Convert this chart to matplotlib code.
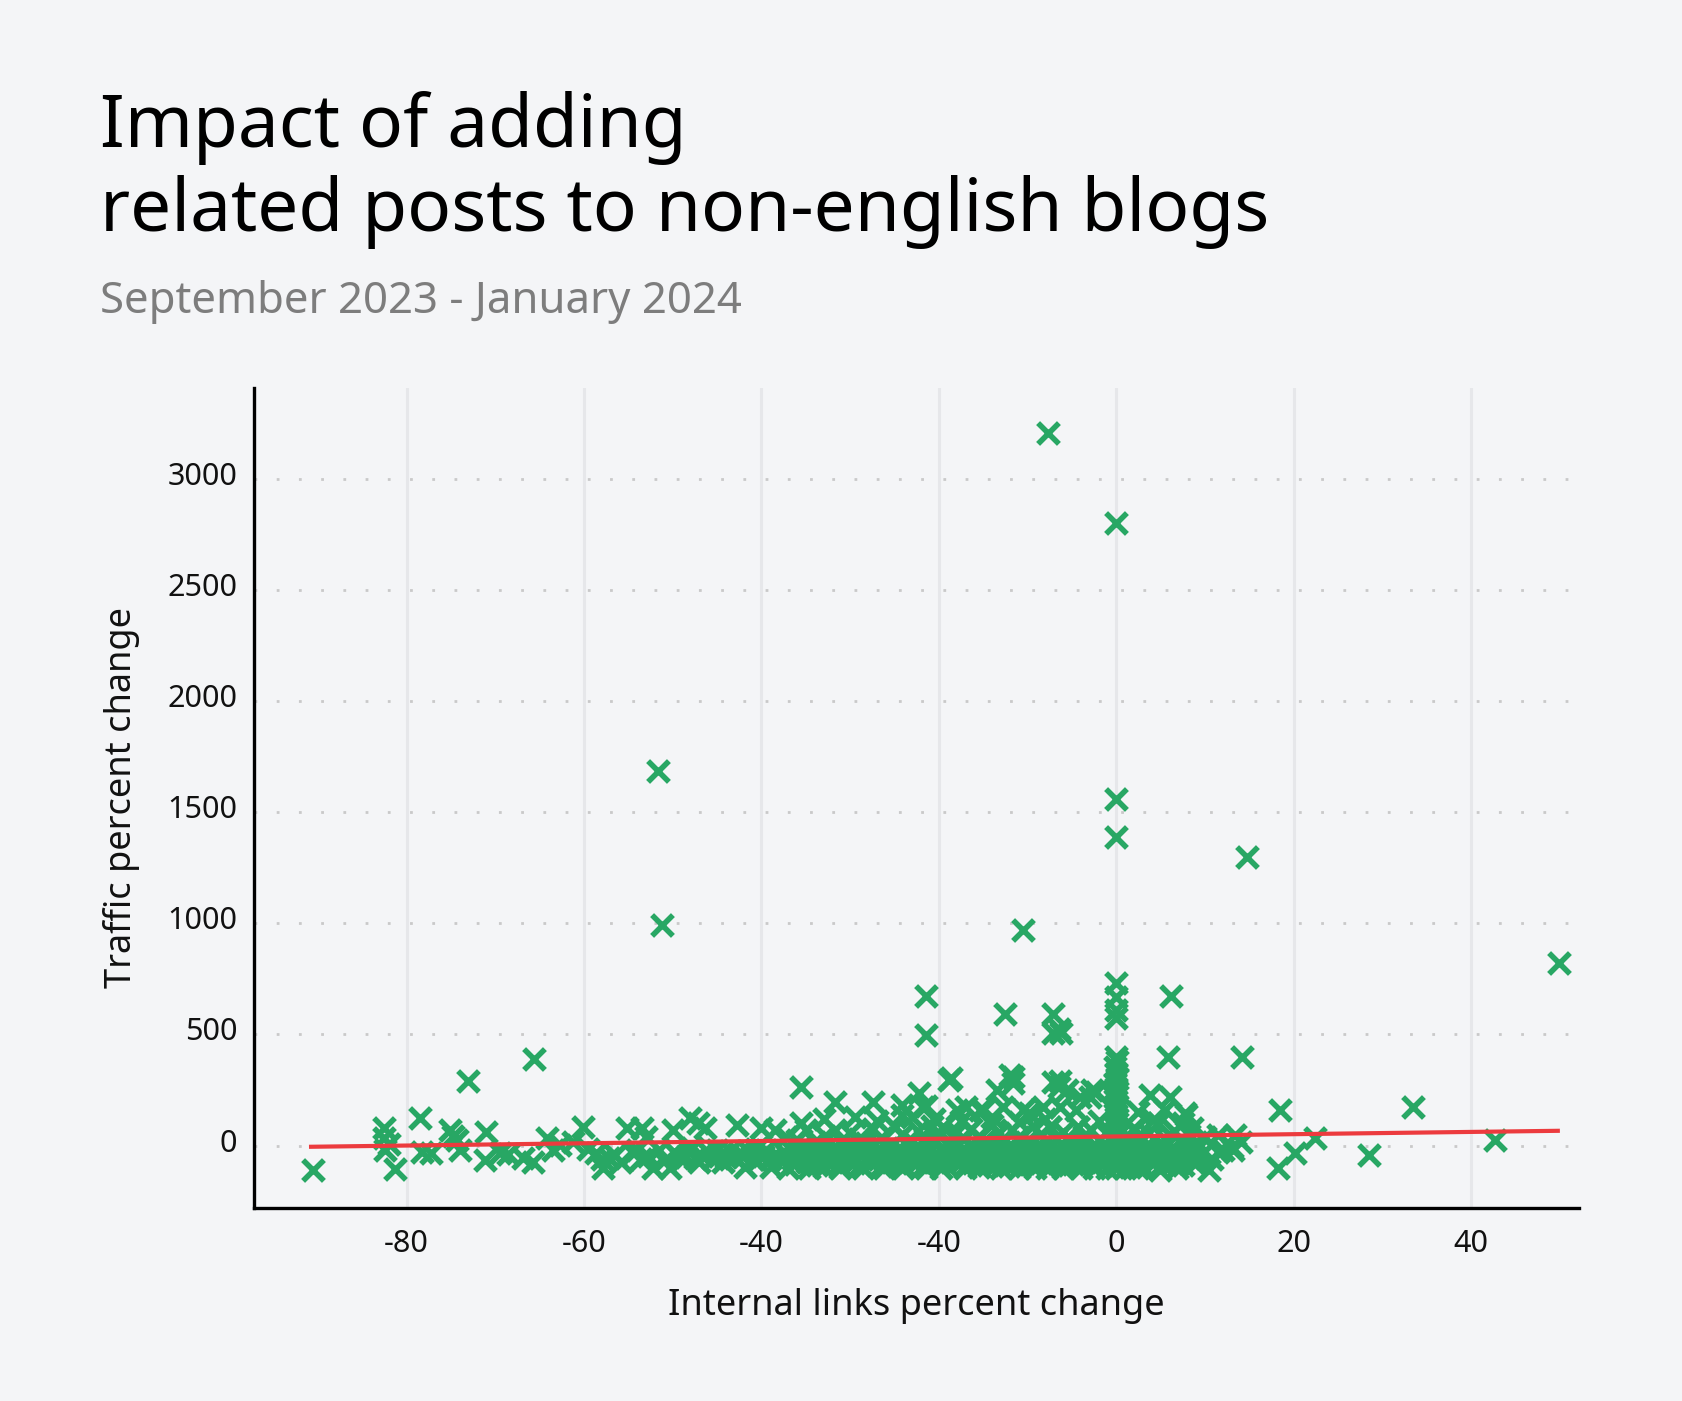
import matplotlib
matplotlib.use("Agg")
import matplotlib.pyplot as plt
from matplotlib.transforms import ScaledTranslation
import numpy as np

# ---------------- data ----------------
# isolated / outlying points
outlier_x = [-7.7, 0.0, -51.7, -51.2, 0.0, 0.0, 14.7, -10.5, 49.9, -21.5, -21.5, -12.5, -7.1, -7.1, -6.2,
             -6.5, 6.2, 0.0, 0.0, 0.0, 0.0, 5.8, 14.2, 33.4, 42.7, 18.4, 20.1, 18.2, 22.4, 28.5, 10.5, 4.9]
outlier_y = [3205, 2799, 1684, 994, 1559, 1390, 1298, 970, 820, 671, 497, 590, 590, 506, 506,
             525, 671, 731, 670, 610, 574, 400, 400, 174, 24, 160, -34, -100, 34, -42, -110, -110]

# sparse points on the left (x < -37)
left_x = [-90.6, -82.6, -82.6, -82.4, -82.0, -81.3, -78.5, -78.3, -77.2, -75.1, -74.3, -74.0, -74.8, -73.1,
          -71.0, -71.2, -69.5, -68.6, -66.9, -65.7, -65.6, -64.2, -63.5, -62.7, -61.2, -60.1, -59.6, -58.6,
          -57.9, -57.2, -55.2, -53.5, -54.5, -53.6, -53.0, -52.2, -51.5, -50.3, -50.0, -49.5, -49.0, -48.1,
          -47.8, -47.2, -46.4, -47.5, -46.0, -45.5, -44.8, -44.0, -43.5, -42.8, -41.9, -42.5, -41.0, -40.6,
          -40.0, -39.5, -38.9, -38.5, -38.0, -37.5, -58.0, -56.5, -55.8, -54.0, -52.8, -51.0, -49.8, -48.5,
          -47.0, -46.8, -45.0, -44.3, -43.0, -42.0, -41.5, -40.5, -39.8, -39.0]
left_y = [-110, 78, 33, -20, 8, -107, 123, -27, -35, 70, 25, -20, 45, 290,
          63, -65, -35, -38, -56, -72, 391, 33, -20, 3, 18, 85, -15, -35,
          -101, -55, 78, 78, -34, -60, 40, -101, -20, -101, 70, -40, -65, 124,
          -10, 100, 78, -56, -30, -62, -45, -50, -25, 93, -95, -35, -60, -15,
          78, -20, -95, 70, -50, -30, -60, -40, -75, -20, -45, -70, -30, -50,
          -75, -40, -20, -75, -55, -45, -25, -70, -45, -60]

# dense band, middle row
band1_x = [-37.0, -36.4, -35.8, -35.2, -34.6, -34.0, -33.4, -32.8, -32.2, -31.6, -31.0, -30.4, -29.8, -29.2,
           -28.6, -28.0, -27.4, -26.8, -26.2, -25.6, -25.0, -24.4, -23.8, -23.2, -22.6, -22.0, -21.4, -20.8,
           -20.2, -19.6, -19.0, -18.4, -17.8, -17.2, -16.6, -16.0, -15.4, -14.8, -14.2, -13.6, -13.0, -12.4,
           -11.8, -11.2, -10.6, -10.0, -9.4, -8.8, -8.2, -7.6, -7.0, -6.4, -5.8, -5.2, -4.6, -4.0, -3.4, -2.8,
           -2.2, -1.6, -1.0, -0.4, 0.4, 1.0, 1.6, 2.2, 2.8, 3.4, 4.0, 4.6, 5.2, 5.8, 6.4, 7.0, 7.6, 8.2, 8.8]
band1_y = [-45, -62, -38, -55, -42, -66, -35, -50, -44, -60, -36, -52, -46, -64,
           -39, -55, -43, -61, -37, -51, -47, -63, -40, -56, -44, -60, -38, -53,
           -45, -65, -41, -54, -46, -62, -39, -52, -44, -60, -37, -55, -48, -63,
           -40, -53, -45, -61, -38, -56, -43, -59, -41, -54, -47, -64, -39, -52, -45, -62,
           -40, -55, -44, -58, -42, -57, -46, -63, -40, -52, -45, -60, -38, -54, -47, -58, -42, -55, -48]

# dense band, upper row
band2_x = [-36.7, -35.5, -34.3, -33.1, -31.9, -30.7, -29.5, -28.3, -27.1, -25.9, -24.7, -23.5, -22.3, -21.1,
           -19.9, -18.7, -17.5, -16.3, -15.1, -13.9, -12.7, -11.5, -10.3, -9.1, -7.9, -6.7, -5.5, -4.3, -3.1,
           -1.9, -0.7, 0.7, 1.9, 3.1, 4.3, 5.5, 6.7, 7.9, 9.1]
band2_y = [-18, -8, -25, -12, -22, -5, -20, -14, -26, -10, -19, -3, -24, -12,
           -17, -6, -23, -11, -20, -4, -25, -13, -18, -7, -22, -10, -19, -2, -24,
           -14, -17, -8, -21, -12, -18, -5, -23, -11, -16]

# dense band, lower row
band3_x = [-36.2, -34.9, -33.7, -32.5, -31.3, -30.1, -28.9, -27.7, -26.5, -25.3, -24.1, -22.9, -21.7, -20.5,
           -19.3, -18.1, -16.9, -15.7, -14.5, -13.3, -12.1, -10.9, -9.7, -8.5, -7.3, -6.1, -4.9, -3.7, -2.5,
           -1.3, 0.3, 1.5, 2.7, 3.9, 5.1, 6.3, 7.5, 8.7]
band3_y = [-82, -75, -88, -78, -85, -72, -86, -79, -90, -74, -84, -77, -89, -73,
           -83, -80, -87, -75, -85, -78, -90, -74, -82, -79, -88, -76, -84, -80, -89,
           -73, -85, -78, -87, -75, -83, -79, -86, -74]

# dense band, extra fill row
band4_x = [-35.9, -34.8, -33.5, -32.3, -31.1, -29.9, -28.7, -27.5, -26.3, -25.1, -23.9, -22.7, -21.5, -20.3,
           -19.1, -17.9, -16.7, -15.5, -14.3, -13.1, -11.9, -10.7, -9.5, -8.3, -7.1, -5.9, -4.7, -3.5, -2.3,
           -1.1, 0.9, 2.1, 3.3, 4.5, 5.7, 6.9, 8.1]
band4_y = [-30, -68, -28, -70, -32, -66, -29, -71, -33, -67, -27, -69, -31, -72,
           -28, -66, -34, -70, -29, -68, -32, -71, -27, -67, -30, -69, -33, -72, -28,
           -66, -31, -70, -29, -68, -32, -71, -30]

# points at the -100 floor
floor_x = [-37.0, -34.6, -33.0, -31.2, -28.5, -26.2, -24.0, -21.5, -19.8, -17.0, -15.5, -13.0, -11.0, -9.2,
           -7.8, -6.0, -4.0, -2.5, -1.0, 1.0, 2.5, 6.8, 9.0]
floor_y = [-100, -100, -98, -100, -100, -99, -100, -100, -100, -100, -98, -100, -100, -99,
           -100, -100, -100, -100, -100, -100, -100, -100, -80]

# points just above the band
above_x = [-37.2, -36.0, -35.0, -34.0, -32.8, -31.7, -31.0, -30.0, -29.0, -28.2, -27.4, -26.5, -25.0, -24.2,
           -23.0, -22.4, -21.6, -20.8, -20.0, -19.5, -18.8, -18.0, -17.2, -16.4, -15.6, -14.9, -14.0, -13.2,
           -12.5, -11.8, -11.0, -10.2, -9.4, -8.6, -7.5, -6.8, -6.0, -5.2, -4.3, -3.6, -2.8, -2.0, -1.2, 1.2,
           2.0, 2.8, 3.6, 4.7, 5.5, 6.5, 7.4, 8.2, 9.0, 10.0, 11.5, 13.4, 12.0, 13.0, 9.5, 10.8, 11.5, 14.0,
           8.5, 7.5, 13.1]
above_y = [40, 25, 70, 15, 45, 70, 20, 55, 30, 10, 75, 35, 85, 50,
           20, 65, 30, 90, 45, 85, 15, 60, 30, 75, 40, 20, 95, 55,
           25, 70, 40, 15, 90, 50, 85, 30, 60, 20, 85, 45, 70, 25, 55, 35,
           70, 20, 55, 100, 30, 65, 25, 50, 15, 40, 48, 48, -20, -5, -40, -60, -30, 15,
           80, 100, -20]

# scattered points 100-320
mid_x = [-35.5, -35.5, -31.7, -27.4, -24.2, -24.2, -22.2, -21.8, -19.5, -25.0, -18.9, -18.0, -15.0, -13.5,
         -11.6, -11.7, -9.8, -7.1, -6.5, -4.1, -2.7, 3.8, 6.0, 7.9, 4.7, -12.0, -12.8, -15.4, -16.9, -10.5,
         -9.6, -8.3, -6.4, -5.6, -6.4, -4.5, -4.3, -7.5, -3.0, -2.3, 4.1, -33.0, -29.5, -27.0, -23.0,
         -20.5, -17.5, -14.0, -11.0, -8.0, -2.0, 2.5, 5.5, 7.7, -21.5, -18.6]
mid_y = [265, 100, 198, 198, 183, 140, 236, 175, 85, 85, 295, 160, 160, 250,
         310, 280, 146, 287, 265, 220, 250, 227, 220, 138, 100, 318, 175, 160, 175, 160,
         138, 175, 290, 250, 175, 160, 85, 85, 220, 240, 115, 120, 130, 110, 130,
         120, 110, 130, 105, 120, 110, 150, 160, 146, 179, 304]

# vertical column at x = 0
col_x = [0.0, 0.1, -0.1, 0.0, 0.1, -0.1, 0.0, 0.1, -0.1, 0.0, 0.1, -0.1, 0.0, 0.1, -0.1, 0.0, 0.1, -0.1,
         0.0, 0.1, -0.1, 0.0, 0.1, -0.1, 0.0, 1.5, 2.2, 3.0, 1.8, 2.6, 1.2, 2.9, 2.0, 1.5]
col_y = [400, 380, 355, 325, 300, 280, 260, 240, 220, 200, 180, 160, 140, 120, 100, 80, 60, 40,
         20, 0, -20, -40, -60, -80, -100, -95, -70, -30, 10, 50, -50, -90, 80, -10]

# trend line end points
trend_x = [-91, 50]
trend_y = [-5, 67]

x_ticks = [-80, -60, -40, -20, 0, 20, 40]
x_tick_labels = ["-80", "-60", "-40", "-40", "0", "20", "40"]
y_ticks = [0, 500, 1000, 1500, 2000, 2500, 3000]

# ---------------- style ----------------
BG = "#f4f5f7"
GREEN = "#28a764"
RED = "#ec3b3e"
FONT = ["Noto Sans", "DejaVu Sans"]
plt.rcParams["font.family"] = FONT

fig = plt.figure(figsize=(16.82, 14.01), dpi=100)
fig.patch.set_facecolor(BG)
ax = fig.add_axes([0.151, 0.1378, 0.788, 0.5852])
ax.set_facecolor(BG)

all_x = np.concatenate([outlier_x, left_x, band1_x, band2_x, band3_x, band4_x, floor_x, above_x, mid_x, col_x])
all_y = np.concatenate([outlier_y, left_y, band1_y, band2_y, band3_y, band4_y, floor_y, above_y, mid_y, col_y])

ax.scatter(all_x, all_y, marker="x", s=15 ** 2, linewidths=4.0, color=GREEN, zorder=3)
ax.plot(trend_x, trend_y, color=RED, lw=3.0, zorder=4, solid_capstyle="butt")

ax.set_xlim(-97.2, 52.2)
ax.set_ylim(-280, 3407)

ax.set_xticks(x_ticks)
ax.set_xticklabels(x_tick_labels)
ax.set_yticks(y_ticks)
ax.tick_params(axis="both", length=0, labelsize=22, colors="#111111")
ax.tick_params(axis="x", pad=15)
ax.tick_params(axis="y", pad=12)
shift = ScaledTranslation(0, 4 / 72, fig.dpi_scale_trans)
for lab in ax.get_yticklabels():
    lab.set_transform(lab.get_transform() + shift)

ax.xaxis.grid(True, color="#e6e7ea", lw=2.2, zorder=0)
ax.yaxis.grid(True, color="#c9c9c9", lw=2.0, linestyle=(0, (1, 7)), zorder=0)
ax.set_axisbelow(True)

for s in ["top", "right"]:
    ax.spines[s].set_visible(False)
for s in ["left", "bottom"]:
    ax.spines[s].set_linewidth(2.4)
    ax.spines[s].set_color("#000000")

fig.text(0.545, 0.068, "Internal links percent change", ha="center", va="center",
         fontsize=26, color="#111111", fontweight="semibold")
fig.text(0.072, 0.4307, "Traffic percent change", ha="center", va="center", rotation=90,
         fontsize=26, color="#111111", fontweight="semibold")

fig.text(0.0595, 0.895, "Impact of adding", ha="left", va="baseline", fontsize=52.5, color="#000000")
fig.text(0.0595, 0.835, "related posts to non-english blogs", ha="left", va="baseline",
         fontsize=52.5, color="#000000")
fig.text(0.0595, 0.7766, "September 2023 - January 2024", ha="left", va="baseline",
         fontsize=31.5, color="#7d7d7d")

fig.savefig("out.png", dpi=100, facecolor=BG)
